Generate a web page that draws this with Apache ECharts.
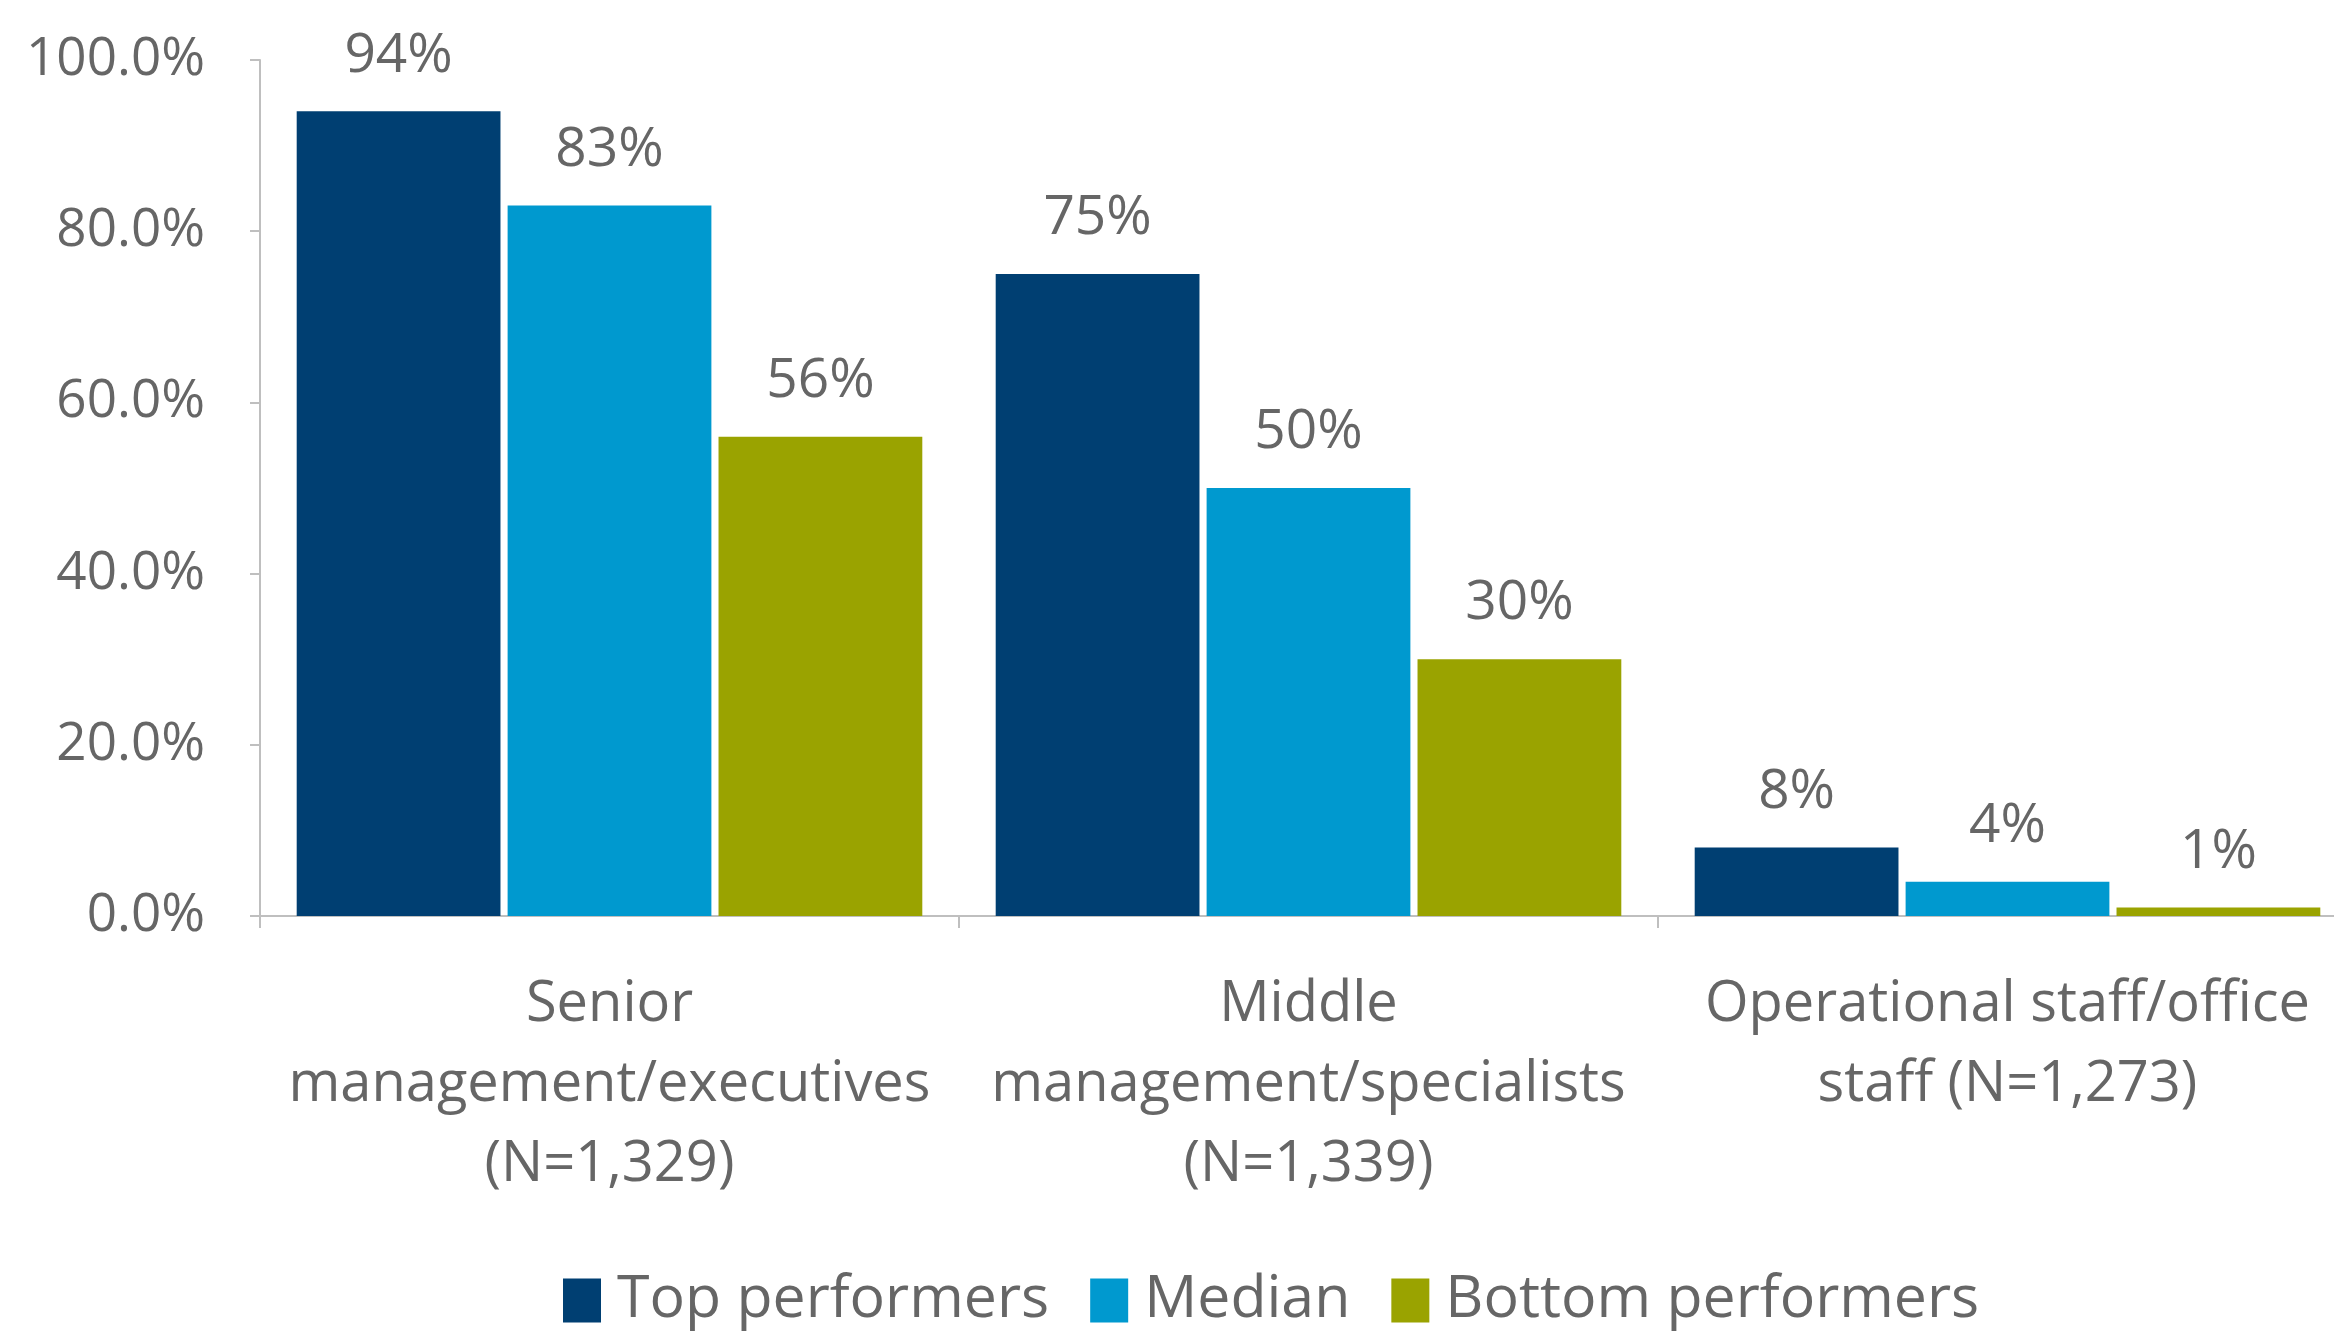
<!DOCTYPE html>
<html>
<head>
<meta charset="utf-8">
<script src="https://cdn.jsdelivr.net/npm/echarts@6/dist/echarts.min.js"></script>
<style>
  html, body { margin: 0; padding: 0; background: #fff; }
  #main { width: 2334px; height: 1332px; }
</style>
</head>
<body>
<div id="main"></div>
<script>
const categories = [
  'Senior\nmanagement/executives\n(N=1,329)',
  'Middle\nmanagement/specialists\n(N=1,339)',
  'Operational staff/office\nstaff (N=1,273)'
]
const seriesNames = ['Top performers', 'Median', 'Bottom performers']
const topPerformers = [94, 75, 8]
const median = [83, 50, 4]
const bottomPerformers = [56, 30, 1]
const yTicks = [0, 20, 40, 60, 80, 100]

const colors = ['#003f72', '#0099cf', '#9aa300']
const textColor = '#666666'
const font = 'Open Sans'

const values = [topPerformers, median, bottomPerformers]
const series = seriesNames.map((name, i) => ({
  name: name,
  type: 'bar',
  data: values[i],
  barGap: '3.5%',
  barCategoryGap: '10.5%',
  itemStyle: { color: colors[i] },
  label: {
    show: true,
    position: 'top',
    distance: 28,
    formatter: '{c}%',
    color: textColor,
    fontFamily: font,
    fontSize: 55
  }
}))

const dom = echarts.init(document.getElementById('main'))
dom.setOption({
  animation: false,
  color: colors,
  grid: {
    left: 260,
    right: -23,
    top: 60,
    bottom: 416,
    containLabel: false,
    outerBoundsMode: 'none'
  },
  legend: {
    data: seriesNames,
    left: 558,
    top: 1266,
    itemWidth: 38,
    itemHeight: 44,
    itemGap: 41,
    icon: 'rect',
    textStyle: {
      color: textColor,
      fontFamily: font,
      fontSize: 59,
      padding: [0, 0, 0, 11]
    }
  },
  xAxis: {
    type: 'category',
    data: categories,
    axisLine: { lineStyle: { color: '#bfbfbf', width: 2 } },
    axisTick: { show: true, length: 12, lineStyle: { color: '#bfbfbf', width: 2 } },
    axisLabel: {
      color: textColor,
      fontFamily: font,
      fontSize: 56,
      lineHeight: 80,
      margin: 49,
      interval: 0
    }
  },
  yAxis: {
    type: 'value',
    min: 0,
    max: 100,
    interval: 20,
    axisLine: { show: true, lineStyle: { color: '#bfbfbf', width: 2 } },
    axisTick: { show: true, length: 10, lineStyle: { color: '#bfbfbf', width: 2 } },
    splitLine: { show: false },
    axisLabel: {
      color: textColor,
      fontFamily: font,
      fontSize: 53,
      margin: 55,
      formatter: v => yTicks.includes(v) ? v.toFixed(1) + '%' : ''
    }
  },
  series: series
})
</script>
</body>
</html>
